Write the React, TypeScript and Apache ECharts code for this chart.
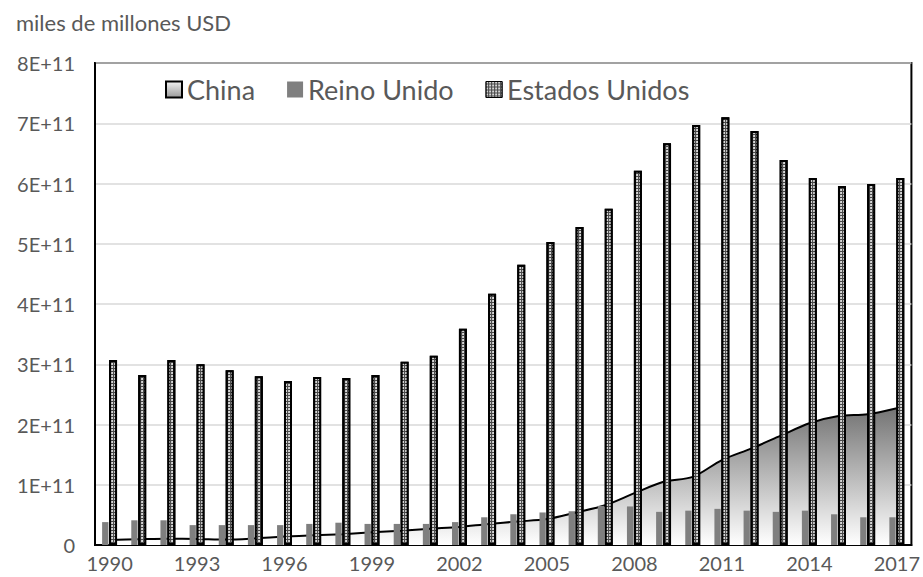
import React, { useEffect, useRef } from "react";
import * as echarts from "echarts";

const years = [
  "1990","1991","1992","1993","1994","1995","1996","1997","1998","1999",
  "2000","2001","2002","2003","2004","2005","2006","2007","2008","2009",
  "2010","2011","2012","2013","2014","2015","2016","2017",
];
// values in units of 1E+11 (converted below)
const chinaVals = [
  0.083, 0.095, 0.105, 0.1, 0.09, 0.11, 0.14, 0.16, 0.18, 0.21,
  0.235, 0.27, 0.3, 0.35, 0.39, 0.43, 0.54, 0.66, 0.86, 1.05,
  1.13, 1.41, 1.6, 1.81, 2.02, 2.14, 2.17, 2.27,
];
const ukVals = [
  0.38, 0.41, 0.41, 0.33, 0.33, 0.33, 0.33, 0.35, 0.37, 0.35,
  0.35, 0.35, 0.38, 0.46, 0.51, 0.54, 0.56, 0.65, 0.64, 0.55,
  0.57, 0.6, 0.57, 0.55, 0.57, 0.51, 0.46, 0.46,
];
const usVals = [
  3.07, 2.82, 3.07, 3.0, 2.9, 2.8, 2.72, 2.79, 2.77, 2.82,
  3.04, 3.14, 3.59, 4.17, 4.65, 5.03, 5.28, 5.58, 6.21, 6.67,
  6.97, 7.1, 6.87, 6.39, 6.09, 5.96, 5.99, 6.09,
];
const seriesNames = ["China", "Reino Unido", "Estados Unidos"];
const unitLabel = "miles de millones USD";

const E11 = 1e11;
const FONT = "Lato";
const TXT = "#595959";

export default function App() {
  const ref = useRef<HTMLDivElement>(null);
  useEffect(() => {
    if (!ref.current) return;
    const chart = echarts.init(ref.current, null, { renderer: "svg" });
    const areaGrad = new echarts.graphic.LinearGradient(0, 0, 0, 1, [
      { offset: 0, color: "#747474" },
      { offset: 1, color: "#ffffff" },
    ]);
    const legendGrad = new echarts.graphic.LinearGradient(0, 0, 0, 1, [
      { offset: 0, color: "#f2f2f2" },
      { offset: 1, color: "#9a9a9a" },
    ]);
    const usDecal = {
      symbol: "circle",
      symbolSize: 0.9,
      color: "#ffffff",
      backgroundColor: "#4a4a4a",
      dashArrayX: [2, 1],
      dashArrayY: [2, 1],
      rotation: 0,
    };
    chart.setOption({
      animation: false,
      title: {
        text: unitLabel,
        left: 11,
        top: 6,
        textStyle: { fontFamily: FONT, fontSize: 22, fontWeight: "normal", color: TXT },
      },
      legend: {
        left: 160,
        top: 71,
        itemWidth: 16,
        itemHeight: 16,
        itemGap: 32,
        textStyle: { fontFamily: FONT, fontSize: 27, color: TXT },
        data: [
          {
            name: seriesNames[0],
            icon: "rect",
            itemStyle: { color: legendGrad, borderColor: "#000", borderWidth: 2 },
          },
          { name: seriesNames[1], icon: "rect", itemStyle: { color: "#7f7f7f" } },
          {
            name: seriesNames[2],
            icon: "rect",
            itemStyle: { color: "#4a4a4a", decal: usDecal, borderColor: "#000", borderWidth: 1 },
          },
        ],
      },
      grid: {
        left: 95,
        right: 10,
        top: 63,
        bottom: 32,
        show: true,
        borderColor: "#000",
        borderWidth: 2,
        backgroundColor: "transparent",
      },
      xAxis: {
        type: "category",
        data: years,
        boundaryGap: true,
        axisLine: { lineStyle: { color: "#000", width: 2 } },
        axisTick: { show: false },
        axisLabel: {
          interval: 2,
          fontFamily: FONT,
          fontSize: 20,
          color: TXT,
          margin: 8,
        },
      },
      yAxis: {
        type: "value",
        min: 0,
        max: 8 * E11,
        interval: E11,
        axisLine: { show: true, lineStyle: { color: "#000", width: 2 } },
        axisTick: { show: false },
        splitLine: { lineStyle: { color: "#d9d9d9", width: 1.5 } },
        axisLabel: {
          fontFamily: FONT,
          fontSize: 20,
          color: TXT,
          margin: 20,
          formatter: (v: number) => (v === 0 ? "0" : `${Math.round(v / E11)}E+11`),
        },
      },
      series: [
        {
          name: seriesNames[0],
          type: "line",
          data: chinaVals.map((v) => v * E11),
          smooth: 0.3,
          symbol: "none",
          lineStyle: { color: "#000", width: 2 },
          itemStyle: { color: "#000" },
          areaStyle: { color: areaGrad, opacity: 1 },
          z: 1,
        },
        {
          name: seriesNames[1],
          type: "bar",
          data: ukVals.map((v) => v * E11),
          barWidth: 6.3,
          barGap: "10%",
          itemStyle: { color: "#7f7f7f" },
          z: 2,
        },
        {
          name: seriesNames[2],
          type: "bar",
          data: usVals.map((v) => v * E11),
          barWidth: 8,
          itemStyle: {
            color: "#4a4a4a",
            decal: usDecal,
            borderColor: "#000",
            borderWidth: 2,
          },
          z: 2,
        },
      ],
    });
    return () => chart.dispose();
  }, []);
  return (
    <div
      ref={ref}
      style={{ position: "fixed", left: 0, top: 0, width: 923, height: 577, background: "#fff" }}
    />
  );
}
